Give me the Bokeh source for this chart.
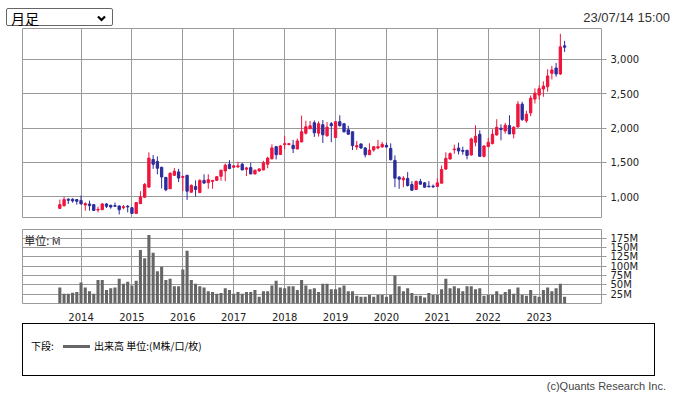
from bokeh.plotting import figure
from bokeh.layouts import column
from bokeh.models import (ColumnDataSource, Range1d, FixedTicker, NumeralTickFormatter,
                          Div, Label)
from bokeh.embed import file_html
from bokeh.resources import INLINE

# ---------------- data (monthly candles) ----------------
months = [
    "2013/08", "2013/09", "2013/10", "2013/11", "2013/12",
    "2014/01", "2014/02", "2014/03", "2014/04", "2014/05", "2014/06", "2014/07", "2014/08", "2014/09", "2014/10", "2014/11", "2014/12",
    "2015/01", "2015/02", "2015/03", "2015/04", "2015/05", "2015/06", "2015/07", "2015/08", "2015/09", "2015/10", "2015/11", "2015/12",
    "2016/01", "2016/02", "2016/03", "2016/04", "2016/05", "2016/06", "2016/07", "2016/08", "2016/09", "2016/10", "2016/11", "2016/12",
    "2017/01", "2017/02", "2017/03", "2017/04", "2017/05", "2017/06", "2017/07", "2017/08", "2017/09", "2017/10", "2017/11", "2017/12",
    "2018/01", "2018/02", "2018/03", "2018/04", "2018/05", "2018/06", "2018/07", "2018/08", "2018/09", "2018/10", "2018/11", "2018/12",
    "2019/01", "2019/02", "2019/03", "2019/04", "2019/05", "2019/06", "2019/07", "2019/08", "2019/09", "2019/10", "2019/11", "2019/12",
    "2020/01", "2020/02", "2020/03", "2020/04", "2020/05", "2020/06", "2020/07", "2020/08", "2020/09", "2020/10", "2020/11", "2020/12",
    "2021/01", "2021/02", "2021/03", "2021/04", "2021/05", "2021/06", "2021/07", "2021/08", "2021/09", "2021/10", "2021/11", "2021/12",
    "2022/01", "2022/02", "2022/03", "2022/04", "2022/05", "2022/06", "2022/07", "2022/08", "2022/09", "2022/10", "2022/11", "2022/12",
    "2023/01", "2023/02", "2023/03", "2023/04", "2023/05", "2023/06", "2023/07",
]
opens = [
    833, 873, 966, 966, 961,
    946, 882, 897, 887, 809, 814, 897, 877, 873, 868, 843, 863,
    843, 760, 902, 995, 1142, 1544, 1515, 1431, 1284, 1118, 1314, 1363,
    1284, 1314, 1069, 1152, 1064, 1240, 1206, 1225, 1240, 1299, 1377, 1475,
    1431, 1436, 1475, 1402, 1426, 1333, 1377, 1392, 1475, 1554, 1730, 1617,
    1760, 1760, 1750, 1696, 1799, 1926, 1990, 2078, 1926, 2049, 1887, 2063,
    1862, 2093, 2063, 1975, 1946, 1725, 1769, 1711, 1613, 1681, 1711, 1725,
    1749, 1705, 1530, 1287, 1248, 1268, 1180, 1107, 1224, 1204, 1156, 1156,
    1151, 1199, 1404, 1550, 1686, 1710, 1676, 1676, 1608, 1793, 1910, 1589,
    1730, 1774, 1900, 1998, 1958, 2036, 1915, 2017, 2348, 2105, 2221, 2421,
    2479, 2567, 2601, 2796, 2873, 2786, 3195,
]
highs = [
    961, 1000, 980, 980, 966,
    1020, 922, 946, 897, 858, 912, 912, 887, 917, 877, 882, 882,
    848, 927, 1083, 1201, 1647, 1608, 1588, 1436, 1289, 1358, 1421, 1407,
    1304, 1319, 1181, 1240, 1255, 1328, 1328, 1245, 1299, 1397, 1485, 1534,
    1461, 1510, 1495, 1436, 1495, 1397, 1412, 1524, 1583, 1764, 1740, 1755,
    1887, 1779, 1828, 1848, 2181, 2107, 2103, 2112, 2098, 2117, 2088, 2088,
    2098, 2186, 2073, 2034, 1951, 1813, 1779, 1725, 1779, 1730, 1828, 1799,
    1788, 1778, 1603, 1302, 1302, 1360, 1229, 1238, 1263, 1214, 1229, 1180,
    1268, 1457, 1647, 1647, 1759, 1788, 1730, 1686, 1861, 2041, 1968, 1749,
    1856, 1983, 2129, 2056, 2075, 2187, 2027, 2392, 2382, 2251, 2474, 2577,
    2620, 2679, 2854, 2903, 2947, 3370, 3268,
]
lows = [
    824, 858, 897, 917, 887,
    892, 799, 799, 799, 775, 809, 838, 828, 858, 745, 819, 775,
    755, 755, 897, 985, 1132, 1407, 1328, 1123, 1083, 1118, 1304, 1216,
    1083, 956, 1059, 1005, 1054, 1191, 1118, 1118, 1230, 1235, 1230, 1402,
    1426, 1421, 1387, 1304, 1333, 1328, 1363, 1387, 1417, 1544, 1544, 1608,
    1691, 1750, 1637, 1691, 1794, 1907, 1985, 1872, 1877, 1784, 1877, 1794,
    1858, 2024, 1936, 1902, 1681, 1681, 1696, 1573, 1608, 1657, 1691, 1720,
    1715, 1530, 1141, 1117, 1141, 1151, 1092, 1102, 1180, 1136, 1141, 1131,
    1146, 1195, 1394, 1545, 1628, 1618, 1613, 1545, 1603, 1735, 1589, 1574,
    1725, 1764, 1890, 1822, 1919, 1915, 1851, 2007, 2105, 2075, 2173, 2358,
    2416, 2455, 2528, 2708, 2747, 2771, 3107,
]
closes = [
    887, 961, 951, 941, 936,
    897, 902, 873, 804, 819, 897, 863, 853, 863, 814, 858, 853,
    760, 917, 1000, 1181, 1564, 1475, 1417, 1289, 1103, 1343, 1372, 1274,
    1299, 1083, 1167, 1108, 1240, 1201, 1250, 1240, 1294, 1387, 1461, 1412,
    1451, 1451, 1392, 1421, 1333, 1387, 1407, 1495, 1564, 1711, 1613, 1740,
    1774, 1774, 1701, 1813, 1946, 2019, 2034, 1931, 2063, 1902, 2014, 2034,
    2093, 2034, 1946, 1911, 1745, 1745, 1711, 1613, 1681, 1730, 1730, 1764,
    1725, 1540, 1272, 1258, 1272, 1165, 1097, 1224, 1185, 1141, 1146, 1146,
    1204, 1399, 1560, 1628, 1696, 1667, 1662, 1603, 1842, 1881, 1589, 1740,
    1793, 1910, 2012, 1978, 2041, 1915, 2012, 2348, 2124, 2202, 2435, 2508,
    2572, 2611, 2757, 2844, 2786, 3180, 3175,
]
volumes_m = [
    43, 26, 26, 29, 31,
    56, 43, 33, 26, 63, 63, 36, 41, 43, 66, 53, 58,
    48, 61, 143, 121, 183, 136, 86, 98, 63, 66, 46, 46,
    91, 141, 63, 53, 46, 43, 33, 31, 26, 28, 41, 36,
    26, 31, 26, 31, 31, 36, 18, 33, 33, 48, 61, 43,
    41, 46, 46, 36, 63, 48, 38, 41, 31, 53, 53, 38,
    38, 43, 48, 33, 33, 21, 18, 18, 23, 18, 23, 23,
    18, 23, 75, 46, 33, 41, 28, 21, 21, 16, 28, 23,
    23, 38, 66, 41, 46, 41, 33, 46, 46, 38, 41, 21,
    23, 23, 33, 23, 31, 38, 26, 43, 23, 21, 36, 21,
    18, 36, 43, 33, 41, 53, 18,
]
years = ["2014", "2015", "2016", "2017", "2018", "2019", "2020", "2021", "2022", "2023"]
price_ticks = [1000, 1500, 2000, 2500, 3000]
vol_ticks = [25, 50, 75, 100, 125, 150, 175]
vol_tick_labels = ["25M", "50M", "75M", "100M", "125M", "150M", "175M"]

RED = "#f0143c"
BLUE = "#2c2c9c"
GRID = "#9a9a9a"
NUMFONT = "DejaVu Sans"
JPFONT = "Noto Sans CJK JP"


def month_index(s):
    y, m = s.split("/")
    return (int(y) - 2014) * 12 + int(m) - 1


xs = [month_index(m) for m in months]
year_pos = [month_index(y + "/01") for y in years]

up = dict(x=[], top=[], bottom=[], high=[], low=[])
dn = dict(x=[], top=[], bottom=[], high=[], low=[])
for x, o, h, l, c in zip(xs, opens, highs, lows, closes):
    d = up if c >= o else dn
    d["x"].append(x)
    d["top"].append(max(o, c))
    d["bottom"].append(min(o, c))
    d["high"].append(h)
    d["low"].append(l)

x_range = Range1d(-13.8, 122.7)

# ---------------- price panel ----------------
p = figure(width=660, height=190, x_range=x_range, y_range=Range1d(686, 3447),
           x_axis_location=None, y_axis_location="right",
           output_backend="svg", toolbar_location=None,
           min_border_left=14, min_border_right=67, min_border_top=0, min_border_bottom=0)
p.outline_line_color = GRID
p.background_fill_color = "white"
p.xgrid.ticker = FixedTicker(ticks=year_pos)
p.ygrid.ticker = FixedTicker(ticks=price_ticks)
for g in (p.xgrid[0], p.ygrid[0]):
    g.grid_line_color = GRID
    g.grid_line_width = 1
ax = p.yaxis[0]
ax.ticker = FixedTicker(ticks=price_ticks)
ax.formatter = NumeralTickFormatter(format="0,0")
ax.axis_line_color = None
ax.major_tick_in = 0
ax.major_tick_out = 5
ax.major_tick_line_color = GRID
ax.minor_tick_line_color = None
ax.major_label_standoff = 4
ax.major_label_text_font = NUMFONT
ax.major_label_text_font_size = "10px"
ax.major_label_text_color = "#222222"

for d, col in ((up, RED), (dn, BLUE)):
    src = ColumnDataSource(d)
    p.segment(x0="x", y0="high", x1="x", y1="low", source=src, line_color=col, line_width=1)
    p.vbar(x="x", width=0.55, top="top", bottom="bottom", source=src,
           fill_color=col, line_color=col, line_width=1)

# ---------------- volume panel ----------------
v = figure(width=660, height=105, x_range=x_range, y_range=Range1d(0, 198),
           x_axis_location="below", y_axis_location="right",
           output_backend="svg", toolbar_location=None,
           min_border_left=14, min_border_right=67, min_border_top=11, min_border_bottom=15)
v.outline_line_color = GRID
v.xgrid.ticker = FixedTicker(ticks=year_pos)
v.ygrid.ticker = FixedTicker(ticks=vol_ticks)
for g in (v.xgrid[0], v.ygrid[0]):
    g.grid_line_color = GRID
    g.grid_line_width = 1
vx = v.xaxis[0]
vx.ticker = FixedTicker(ticks=year_pos)
vx.major_label_overrides = {pos: lab for pos, lab in zip(year_pos, years)}
vx.axis_line_color = None
vx.major_tick_line_color = None
vx.minor_tick_line_color = None
vx.major_label_standoff = 3
vx.major_label_text_font = NUMFONT
vx.major_label_text_font_size = "10px"
vx.major_label_text_color = "#222222"
vy = v.yaxis[0]
vy.ticker = FixedTicker(ticks=vol_ticks)
vy.major_label_overrides = {t: lab for t, lab in zip(vol_ticks, vol_tick_labels)}
vy.axis_line_color = None
vy.major_tick_in = 0
vy.major_tick_out = 5
vy.major_tick_line_color = GRID
vy.minor_tick_line_color = None
vy.major_label_standoff = 4
vy.major_label_text_font = NUMFONT
vy.major_label_text_font_size = "10px"
vy.major_label_text_color = "#222222"

v.vbar(x=xs, top=volumes_m, width=0.72, fill_color="#666666", line_color=None)
v.add_layout(Label(x=-13.4, y=198, y_offset=-2, text="単位: M", text_baseline="top",
                   text_font=JPFONT, text_font_size="11px", text_color="#222222",
                   level="image"))

# ---------------- html pieces ----------------
top = Div(text=(
    '<div style="position:relative;width:660px;height:20px;">'
    '<div style="position:absolute;left:-2px;top:0px;width:107px;height:18px;'
    'border:1px solid #666;border-radius:2px;background:#fff;">'
    '<span style="position:absolute;left:4px;top:0px;line-height:18px;'
    'font-family:\'Noto Sans CJK JP\';font-size:14px;color:#000;">月足</span>'
    '<svg style="position:absolute;right:6px;top:6px;" width="9" height="7" viewBox="0 0 9 7">'
    '<polyline points="1,1.5 4.5,5 8,1.5" fill="none" stroke="#000" stroke-width="2.2"/></svg>'
    '</div>'
    '<span style="position:absolute;right:-2px;top:1px;font-family:\'Liberation Sans\';'
    'font-size:13px;color:#333;">23/07/14 15:00</span></div>'),
    width=660, height=20, margin=(0, 0, 0, 0))

legend = Div(text=(
    '<div style="position:relative;width:660px;height:55px;">'
    '<div style="position:absolute;left:14px;top:0px;width:633px;height:53px;border:1px solid #000;"></div>'
    '<span style="position:absolute;left:23px;top:16px;font-family:\'Noto Sans CJK JP\';'
    'font-size:10px;color:#000;">下段:</span>'
    '<span style="position:absolute;left:55px;top:22px;width:27px;height:3px;background:#666;"></span>'
    '<span style="position:absolute;left:86px;top:16px;font-family:\'Noto Sans CJK JP\';'
    'font-size:10px;color:#000;">出来高 単位:(M株/口/枚)</span></div>'),
    width=660, height=55, margin=(0, 0, 0, 0))

credit = Div(text=(
    '<div style="width:658px;text-align:right;padding-top:1px;font-family:\'Liberation Sans\';'
    'font-size:11px;color:#444;">(c)Quants Research Inc.</div>'),
    width=660, height=17, margin=(0, 0, 0, 0))

layout = column(top, p, v, legend, credit, spacing=0, margin=(8, 8, 0, 8))
open("out.html", "w").write(file_html(layout, INLINE))
